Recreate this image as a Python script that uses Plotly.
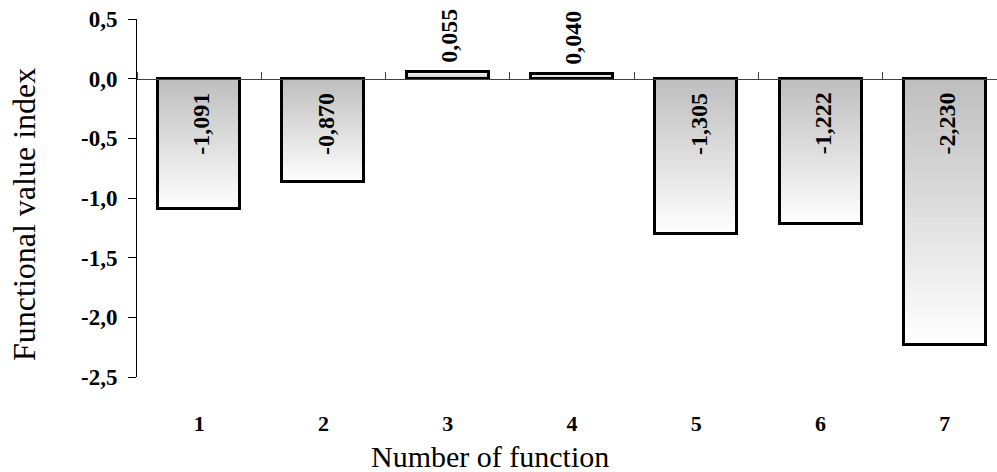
import plotly.graph_objects as go

# ---- data ----
categories = ["1", "2", "3", "4", "5", "6", "7"]
values = [-1.091, -0.870, 0.055, 0.040, -1.305, -1.222, -2.230]
value_labels = ["-1,091", "-0,870", "0,055", "0,040", "-1,305", "-1,222", "-2,230"]
ytick_vals = [0.5, 0.0, -0.5, -1.0, -1.5, -2.0, -2.5]
ytick_text = ["0,5", "0,0", "-0,5", "-1,0", "-1,5", "-2,0", "-2,5"]
x_title = "Number of function"
y_title = "Functional value index"

# ---- style ----
FONT = "Liberation Serif, Times New Roman, serif"
BAR_W = 0.66
Y_RANGE = [-2.5, 0.5]
X_RANGE = [-0.5, 6.42]
N_STEPS = 48
G_TOP, G_BOTTOM = 190, 255

fig = go.Figure()

# gradient fill: overlaid bars from longest to shortest
for k in range(N_STEPS, 0, -1):
    f = k / N_STEPS
    fm = (k - 0.5) / N_STEPS
    g = int(round(G_TOP + (G_BOTTOM - G_TOP) * fm))
    fig.add_bar(
        x=categories, y=[v * f for v in values], width=BAR_W,
        marker=dict(color=f"rgb({g},{g},{g})", line_width=0),
        hoverinfo="skip", showlegend=False,
    )

# outline bars
fig.add_bar(
    x=categories, y=values, width=BAR_W, xaxis="x2",
    marker=dict(color="rgba(0,0,0,0)", line=dict(color="black", width=3)),
    hoverinfo="skip", showlegend=False,
)

# value labels (category index used as position)
for i, (v, t) in enumerate(zip(values, value_labels)):
    if v < 0:
        fig.add_annotation(x=i, y=0, yanchor="top", yshift=-12, xshift=2)
    else:
        fig.add_annotation(x=i, y=v, yanchor="bottom", yshift=7, xshift=1)
    fig.layout.annotations[-1].update(
        text=t, textangle=-90, showarrow=False, xanchor="center",
        xref="x", yref="y",
        font=dict(family=FONT, size=24, color="black", weight="bold"),
    )

# axis titles
fig.add_annotation(
    text=y_title, xref="paper", yref="paper", x=0, y=0.5, xshift=-113, yshift=-17,
    xanchor="center", yanchor="middle", textangle=-90, showarrow=False,
    font=dict(family=FONT, size=32, color="black"),
)
fig.add_annotation(
    text=x_title, xref="paper", yref="paper", x=(490 - 137) / 860, y=0, yshift=-79,
    xanchor="center", yanchor="middle", showarrow=False,
    font=dict(family=FONT, size=30, color="black"),
)

zero_pos = (0 - Y_RANGE[0]) / (Y_RANGE[1] - Y_RANGE[0])

fig.update_layout(
    width=997, height=472,
    margin=dict(l=137, r=0, t=19, b=95, autoexpand=False),
    barmode="overlay",
    bargap=0,
    plot_bgcolor="white", paper_bgcolor="white",
    font=dict(family=FONT, color="black"),
    xaxis=dict(
        type="category", categoryarray=categories, range=X_RANGE,
        showline=False, ticks="", showgrid=False, zeroline=False,
        tickfont=dict(family=FONT, size=22, weight="bold"),
        ticklabelstandoff=31,
        automargin=False,
    ),
    xaxis2=dict(
        type="category", categoryarray=categories, range=X_RANGE,
        overlaying="x", anchor="free", position=zero_pos, side="top",
        showline=True, linecolor="#404040", linewidth=1,
        ticks="outside", ticklen=7, tickcolor="#404040", tickwidth=1,
        tickson="boundaries", showticklabels=False, showgrid=False, zeroline=False,
    ),
    yaxis=dict(
        range=Y_RANGE, tickvals=ytick_vals, ticktext=ytick_text,
        showline=True, linecolor="black", linewidth=1,
        ticks="outside", ticklen=8, tickcolor="black",
        showgrid=False, zeroline=False,
        tickfont=dict(family=FONT, size=23, weight="bold"),
        ticklabelstandoff=6,
        automargin=False,
    ),
)

fig.write_html("out.html")
